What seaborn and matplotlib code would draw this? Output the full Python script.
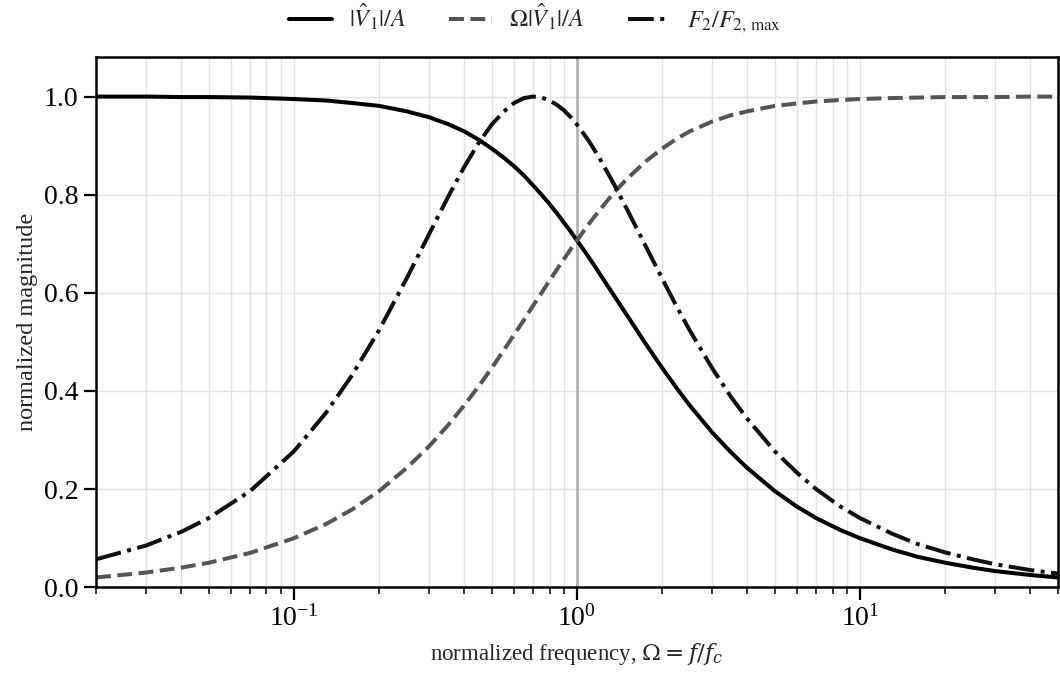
import numpy as np
import pandas as pd
import matplotlib
matplotlib.use("Agg")
import matplotlib.pyplot as plt
import seaborn as sns

# Valores (frecuencia normalizada Omega = f/f_c)
omega = [0.02, 0.03, 0.04, 0.05, 0.07, 0.1, 0.13, 0.16, 0.2, 0.25, 0.3, 0.35,
         0.4, 0.45, 0.5, 0.55, 0.6, 0.65, 0.7, 0.75, 0.8, 0.85, 0.9, 0.95, 1.0,
         1.1, 1.2, 1.35, 1.5, 1.75, 2, 2.25, 2.5, 3, 3.5, 4, 5, 6, 7, 8.5, 10,
         13, 16, 20, 25, 30, 40, 50]

v1_mag = [1.000, 1.000, 0.999, 0.999, 0.998, 0.995, 0.992, 0.987, 0.981, 0.970,
          0.958, 0.944, 0.929, 0.912, 0.894, 0.876, 0.858, 0.839, 0.819, 0.800,
          0.781, 0.762, 0.743, 0.725, 0.707, 0.673, 0.640, 0.595, 0.555, 0.496,
          0.447, 0.406, 0.371, 0.316, 0.275, 0.243, 0.196, 0.164, 0.141, 0.117,
          0.100, 0.077, 0.062, 0.050, 0.040, 0.033, 0.025, 0.020]

omega_v1 = [0.020, 0.030, 0.040, 0.050, 0.070, 0.100, 0.129, 0.158, 0.196, 0.243,
            0.287, 0.330, 0.371, 0.410, 0.447, 0.482, 0.515, 0.545, 0.574, 0.600,
            0.625, 0.648, 0.669, 0.689, 0.707, 0.740, 0.768, 0.804, 0.832, 0.868,
            0.894, 0.914, 0.929, 0.949, 0.962, 0.970, 0.981, 0.986, 0.990, 0.993,
            0.995, 0.997, 0.998, 0.999, 0.999, 0.999, 1.000, 1.000]

f2_norm = [0.057, 0.085, 0.113, 0.141, 0.196, 0.277, 0.356, 0.431, 0.524, 0.629,
           0.719, 0.795, 0.857, 0.906, 0.943, 0.969, 0.987, 0.997, 1.000, 0.998,
           0.992, 0.983, 0.972, 0.958, 0.943, 0.910, 0.875, 0.822, 0.771, 0.695,
           0.629, 0.572, 0.524, 0.447, 0.388, 0.343, 0.277, 0.233, 0.200, 0.165,
           0.141, 0.109, 0.088, 0.071, 0.057, 0.047, 0.035, 0.028]

labels = [r'$|\hat{V}_1|/A$', r'$\Omega|\hat{V}_1|/A$', r'$F_2/F_{2,\,\max}$']

df = pd.DataFrame({'omega': omega, 'v1': v1_mag, 'wv1': omega_v1, 'f2': f2_norm})

sns.set_theme(style="ticks")
plt.rcParams['font.family'] = ['Liberation Serif', 'DejaVu Serif']
plt.rcParams['mathtext.fontset'] = 'stix'

fig = plt.figure(figsize=(10.6, 6.84), dpi=100)
ax = fig.add_axes([0.0906, 0.1414, 0.9074, 0.7748])
ax.set_xscale('log')

sns.lineplot(data=df, x='omega', y='v1', ax=ax, color='black', lw=2.9,
             linestyle='-', label=labels[0], sort=False, estimator=None)
sns.lineplot(data=df, x='omega', y='wv1', ax=ax, color='#555555', lw=2.9,
             linestyle='--', label=labels[1], sort=False, estimator=None)
sns.lineplot(data=df, x='omega', y='f2', ax=ax, color='#111111', lw=2.9,
             linestyle='-.', label=labels[2], sort=False, estimator=None)

ax.axvline(1.0, color='#b4b4b4', lw=2, zorder=1)

ax.set_xlim(0.02, 50)
ax.set_ylim(0, 1.08)
ax.set_yticks([0.0, 0.2, 0.4, 0.6, 0.8, 1.0])
ax.set_yticklabels(['0.0', '0.2', '0.4', '0.6', '0.8', '1.0'])

ax.grid(True, which='major', axis='both', color='#e2e2e2', lw=1, zorder=0)
ax.grid(True, which='minor', axis='x', color='#e2e2e2', lw=1, zorder=0)
ax.set_axisbelow(True)

for s in ax.spines.values():
    s.set_linewidth(1.8)
    s.set_color('black')
ax.tick_params(which='major', direction='out', length=9, width=1.6,
               labelsize=20, colors='black')
ax.tick_params(which='minor', axis='x', direction='out', length=5, width=1.3)

ax.set_xlabel(r'normalized frequency, $\Omega = f/f_c$', fontsize=16.5,
              math_fontfamily='dejavuserif', labelpad=7)
ax.set_ylabel('normalized magnitude', fontsize=17.5)

handles, lbls = ax.get_legend_handles_labels()
ax.legend_.remove()
fig.legend(handles, lbls, loc='center', bbox_to_anchor=(0.505, 0.973), ncol=3,
           frameon=False, fontsize=17.5, handlelength=1.75, handletextpad=0.7,
           columnspacing=1.8)

plt.savefig('out.png', dpi=100)
plt.close()
